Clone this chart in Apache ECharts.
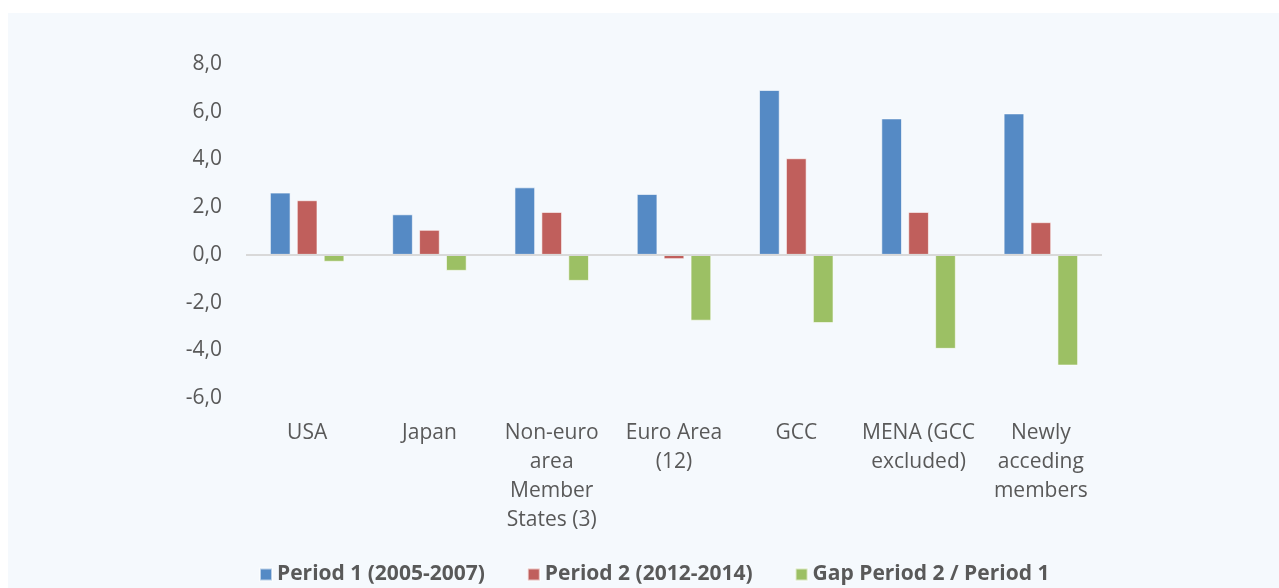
<!DOCTYPE html>
<html>
<head>
<meta charset="utf-8">
<script src="https://cdn.jsdelivr.net/npm/echarts@6/dist/echarts.min.js"></script>
<style>
  html, body { margin: 0; padding: 0; background: #fff; }
  #chart { position: absolute; left: 8px; top: 13px; width: 1271px; height: 575px; background: #f5f9fd; }
</style>
</head>
<body>
<div id="chart"></div>
<script>
// categories and tick labels
let categories = ['USA', 'Japan', 'Non-euro area Member States (3)', 'Euro Area (12)', 'GCC', 'MENA (GCC excluded)', 'Newly acceding members']
let tickLabels = ['USA', 'Japan', 'Non-euro\narea\nMember\nStates (3)', 'Euro Area\n(12)', 'GCC', 'MENA (GCC\nexcluded)', 'Newly\nacceding\nmembers']
// series values
let period1 = [2.61, 1.70, 2.83, 2.55, 6.91, 5.72, 5.93]
let period2 = [2.29, 1.05, 1.80, -0.18, 4.05, 1.80, 1.37]
let gap = [-0.29, -0.67, -1.09, -2.76, -2.86, -3.94, -4.64]
let seriesNames = ['Period 1 (2005-2007)', 'Period 2 (2012-2014)', 'Gap Period 2 / Period 1']

let myChart = echarts.init(document.getElementById('chart'))
let font = 'Open Sans'
let textColor = '#595959'

function bar(name, data, color, withZero) {
  let s = {
    name: name,
    type: 'bar',
    data: data,
    barWidth: 20.7,
    barGap: '30%',
    itemStyle: { color: color, borderColor: 'rgba(255,255,255,0.6)', borderWidth: 1 }
  }
  //零线
  if (withZero) {
    s.markLine = {
      silent: true,
      symbol: 'none',
      label: { show: false },
      lineStyle: { color: '#d9d9d9', type: 'solid', width: 2 },
      data: [{ yAxis: 0 }]
    }
  }
  return s
}

let option = {
  animation: false,
  textStyle: { fontFamily: font },
  grid: { left: 238, top: 51, width: 856, height: 334 },
  legend: {
    bottom: -2,
    left: 246,
    itemWidth: 12,
    itemHeight: 12,
    itemGap: 42,
    icon: 'rect',
    textStyle: { color: textColor, fontSize: 21, fontWeight: 'bold', fontFamily: font }
  },
  xAxis: {
    type: 'category',
    data: categories,
    axisLine: { show: false },
    axisTick: { show: false },
    axisLabel: {
      color: textColor,
      fontSize: 21,
      lineHeight: 29,
      margin: 21,
      verticalAlign: 'top',
      interval: 0,
      formatter: function (v, i) { return tickLabels[i] }
    }
  },
  yAxis: {
    type: 'value',
    min: -6,
    max: 8,
    interval: 2,
    axisLine: { show: false },
    axisTick: { show: false },
    splitLine: { show: false },
    axisLabel: {
      color: textColor,
      fontSize: 21,
      margin: 24,
      formatter: function (v) { return v.toFixed(1).replace('.', ',') }
    }
  },
  series: [
    bar(seriesNames[0], period1, '#558ac5', true),
    bar(seriesNames[1], period2, '#c05f5c', false),
    bar(seriesNames[2], gap, '#9cc064', false)
  ]
}
myChart.setOption(option)
</script>
</body>
</html>
